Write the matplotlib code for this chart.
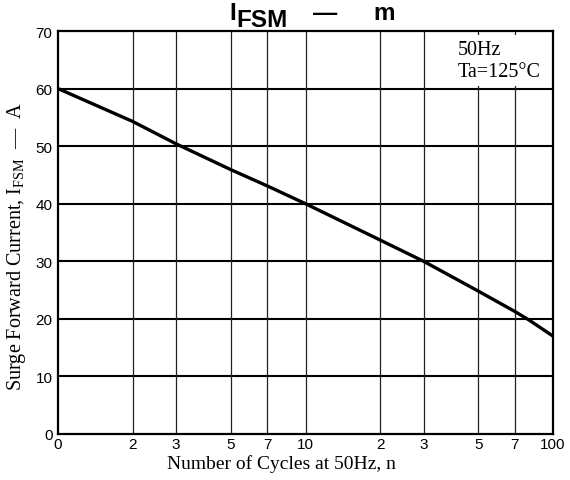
import matplotlib
matplotlib.use("Agg")
import matplotlib.pyplot as plt
from matplotlib.patches import Rectangle

plt.rcParams["font.family"] = ["Liberation Sans", "DejaVu Sans"]
plt.rcParams["mathtext.fontset"] = "custom"
plt.rcParams["mathtext.rm"] = "Liberation Serif"
plt.rcParams["mathtext.it"] = "Liberation Serif:italic"

# 读图得到的数据
cycles = [1, 2, 3, 5, 7, 10, 20, 30, 50, 70, 80, 100]
current = [60, 54.3, 50.4, 45.9, 43.1, 40, 33.7, 30, 24.8, 21.3, 19.8, 17]

x_ticks = [1, 2, 3, 5, 7, 10, 20, 30, 50, 70, 100]
x_tick_labels = ["0", "2", "3", "5", "7", "10", "2", "3", "5", "7", "100"]
y_ticks = [0, 10, 20, 30, 40, 50, 60, 70]

W, H = 570, 481
fig = plt.figure(figsize=(W / 100, H / 100), dpi=100)
ax = fig.add_axes([58 / W, 1 - 435 / H, (553 - 58) / W, (435 - 32) / H])

ax.set_xscale("log")
ax.set_xlim(1, 100)
ax.set_ylim(0, 70)
ax.set_xticks(x_ticks)
ax.set_xticklabels(x_tick_labels)
ax.xaxis.set_minor_locator(matplotlib.ticker.NullLocator())
ax.set_yticks(y_ticks)
ax.tick_params(length=0, labelsize=11, pad=2)
ax.tick_params(axis="y", pad=4)

# 网格: 横线粗, 竖线细
for y in y_ticks[1:-1]:
    ax.axhline(y, color="black", lw=1.5, zorder=1)
for x in x_ticks[1:-1]:
    ax.axvline(x, color="#222222", lw=0.9, zorder=1)

for s in ax.spines.values():
    s.set_linewidth(1.6)

ax.plot(cycles, current, color="black", lw=2.4, zorder=3)

# 条件说明 (白底遮住网格)
ax.add_patch(Rectangle((447 / W, 1 - 87 / H), 104 / W, 51 / H,
                       transform=fig.transFigure, facecolor="white",
                       edgecolor="none", zorder=2))
fig.text(458 / W, 1 - 55 / H, "50Hz", family="Liberation Serif", fontsize=14.5)
fig.text(458 / W, 1 - 77 / H, "Ta=125°C", family="Liberation Serif",
         fontsize=14.5)

# 标题
tkw = dict(family="Liberation Sans", fontweight="bold", fontsize=17.5)
fig.text(229 / W, 1 - 20 / H, "I", **tkw)
fig.text(236 / W, 1 - 27 / H, "FSM", **tkw)
fig.text(313 / W, 1 - 20 / H, "—", **tkw)
fig.text(373 / W, 1 - 20 / H, "m", **tkw)

fig.text(281 / W, 1 - 464 / H, "Number of Cycles at 50Hz, n",
         family="Liberation Serif", fontsize=14, ha="center", va="center")
fig.text(17 / W, 1 - 247 / H, r"Surge Forward Current, I$_{\mathrm{FSM}}$  —  A",
         family="Liberation Serif", fontsize=14.5, ha="center", va="center",
         rotation=90)

fig.savefig("out.png", dpi=100)
